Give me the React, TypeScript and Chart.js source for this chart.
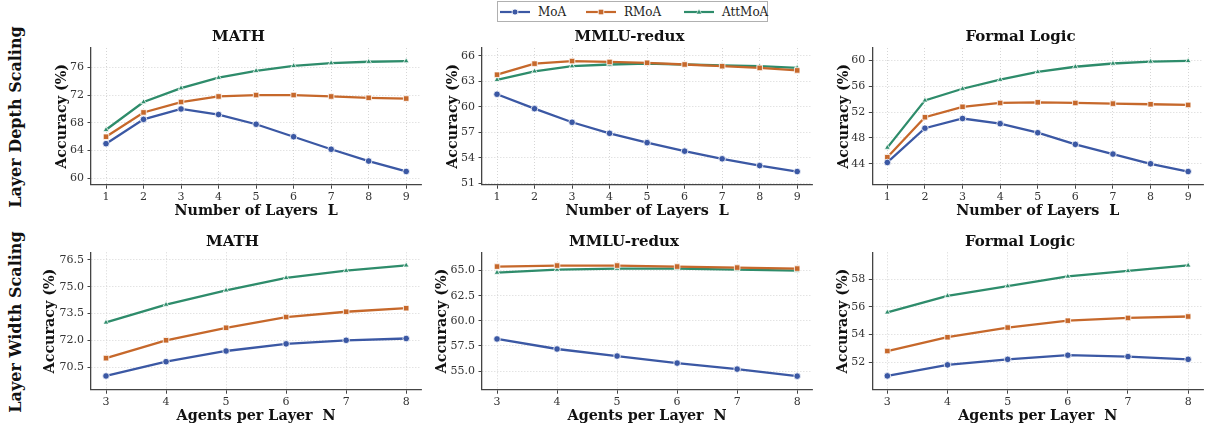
import React, { useEffect, useRef } from 'react';
import { Chart, registerables } from 'chart.js';
Chart.register(...registerables);

const FONT = "'DejaVu Serif', serif";

const seriesNames = ['MoA', 'RMoA', 'AttMoA'];
const seriesColors = ['#3b58a4', '#c6682b', '#2e8c6b'];
const seriesPointStyles = ['circle', 'rect', 'triangle'];
const seriesPointRadius = [3.3, 3.9, 3.3];

// Layer depth (L = 1..9)
const layerCounts = [1, 2, 3, 4, 5, 6, 7, 8, 9];
const mathDepthMoA = [65.0, 68.5, 70.0, 69.2, 67.8, 66.0, 64.2, 62.5, 61.0];
const mathDepthRMoA = [66.0, 69.5, 71.0, 71.8, 72.0, 72.0, 71.8, 71.6, 71.5];
const mathDepthAttMoA = [67.0, 71.0, 73.0, 74.5, 75.5, 76.2, 76.6, 76.8, 76.9];
const mmluDepthMoA = [61.5, 59.8, 58.2, 56.9, 55.8, 54.8, 53.9, 53.1, 52.4];
const mmluDepthRMoA = [63.8, 65.1, 65.4, 65.3, 65.2, 65.0, 64.8, 64.6, 64.3];
const mmluDepthAttMoA = [63.2, 64.2, 64.8, 65.0, 65.1, 65.0, 64.9, 64.8, 64.6];
const flDepthMoA = [44.2, 49.5, 51.0, 50.2, 48.8, 47.0, 45.5, 44.0, 42.8];
const flDepthRMoA = [45.0, 51.2, 52.8, 53.4, 53.5, 53.4, 53.3, 53.2, 53.1];
const flDepthAttMoA = [46.5, 53.8, 55.6, 57.0, 58.2, 59.0, 59.5, 59.8, 59.9];

// Layer width (N = 3..8)
const agentCounts = [3, 4, 5, 6, 7, 8];
const mathWidthMoA = [70.0, 70.8, 71.4, 71.8, 72.0, 72.1];
const mathWidthRMoA = [71.0, 72.0, 72.7, 73.3, 73.6, 73.8];
const mathWidthAttMoA = [73.0, 74.0, 74.8, 75.5, 75.9, 76.2];
const mmluWidthMoA = [58.2, 57.2, 56.5, 55.8, 55.2, 54.5];
const mmluWidthRMoA = [65.4, 65.5, 65.5, 65.4, 65.3, 65.2];
const mmluWidthAttMoA = [64.8, 65.1, 65.2, 65.2, 65.1, 65.0];
const flWidthMoA = [51.0, 51.8, 52.2, 52.5, 52.4, 52.2];
const flWidthRMoA = [52.8, 53.8, 54.5, 55.0, 55.2, 55.3];
const flWidthAttMoA = [55.6, 56.8, 57.5, 58.2, 58.6, 59.0];

// Tick labels
const mathDepthTicks = [60, 64, 68, 72, 76];
const mmluDepthTicks = [51, 54, 57, 60, 63, 66];
const flDepthTicks = [44, 48, 52, 56, 60];
const mathWidthTicks = [70.5, 72.0, 73.5, 75.0, 76.5];
const mmluWidthTicks = [55.0, 57.5, 60.0, 62.5, 65.0];
const flWidthTicks = [52, 54, 56, 58];

const panelTitles = ['MATH', 'MMLU-redux', 'Formal Logic'];
const depthXLabel = 'Number of Layers  L';
const widthXLabel = 'Agents per Layer  N';
const yLabel = 'Accuracy (%)';
const rowLabels = ['Layer Depth Scaling', 'Layer Width Scaling'];

type PanelSpec = {
  title: string;
  xs: number[];
  series: number[][];
  yTicks: number[];
  decimals: number;
  xMin: number;
  xMax: number;
  yMin: number;
  yMax: number;
  xLabel: string;
  plotLeft: number;
  plotRight: number;
  plotTop: number;
  plotBottom: number;
  yLabelX: number;
  titleY: number;
};

const ROW1 = { plotTop: 48, plotBottom: 185, titleY: 37 };
const ROW2 = { plotTop: 252.3, plotBottom: 390, titleY: 241.7 };
const COLS = [
  { plotLeft: 91, plotRight: 423 },
  { plotLeft: 482, plotRight: 814 },
  { plotLeft: 872.3, plotRight: 1205 },
];

const panels: PanelSpec[] = [
  { title: panelTitles[0], xs: layerCounts, series: [mathDepthMoA, mathDepthRMoA, mathDepthAttMoA], yTicks: mathDepthTicks, decimals: 0, xMin: 0.6, xMax: 9.4, yMin: 59.09, yMax: 78.78, xLabel: depthXLabel, ...COLS[0], ...ROW1, yLabelX: 62.7 },
  { title: panelTitles[1], xs: layerCounts, series: [mmluDepthMoA, mmluDepthRMoA, mmluDepthAttMoA], yTicks: mmluDepthTicks, decimals: 0, xMin: 0.6, xMax: 9.4, yMin: 50.85, yMax: 66.94, xLabel: depthXLabel, ...COLS[1], ...ROW1, yLabelX: 453.3 },
  { title: panelTitles[2], xs: layerCounts, series: [flDepthMoA, flDepthRMoA, flDepthAttMoA], yTicks: flDepthTicks, decimals: 0, xMin: 0.6, xMax: 9.4, yMin: 40.76, yMax: 61.9, xLabel: depthXLabel, ...COLS[2], ...ROW1, yLabelX: 844.5 },
  { title: panelTitles[0], xs: agentCounts, series: [mathWidthMoA, mathWidthRMoA, mathWidthAttMoA], yTicks: mathWidthTicks, decimals: 1, xMin: 2.75, xMax: 8.25, yMin: 69.23, yMax: 76.93, xLabel: widthXLabel, ...COLS[0], ...ROW2, yLabelX: 51 },
  { title: panelTitles[1], xs: agentCounts, series: [mmluWidthMoA, mmluWidthRMoA, mmluWidthAttMoA], yTicks: mmluWidthTicks, decimals: 1, xMin: 2.75, xMax: 8.25, yMin: 53.15, yMax: 66.82, xLabel: widthXLabel, ...COLS[1], ...ROW2, yLabelX: 442.5 },
  { title: panelTitles[2], xs: agentCounts, series: [flWidthMoA, flWidthRMoA, flWidthAttMoA], yTicks: flWidthTicks, decimals: 0, xMin: 2.75, xMax: 8.25, yMin: 50.0, yMax: 59.95, xLabel: widthXLabel, ...COLS[2], ...ROW2, yLabelX: 844 },
];

const AXIS_TITLE_SIZE = 14.3;
const AXIS_TITLE_LH = AXIS_TITLE_SIZE * 1.2;
const TITLE_SIZE = 15;
const TITLE_LH = TITLE_SIZE * 1.2;
const TICK_SIZE = 11;
const X_AXIS_H = 26.7 + AXIS_TITLE_LH / 2;

function Panel({ spec }: { spec: PanelSpec }) {
  const ref = useRef<HTMLCanvasElement | null>(null);
  const left = Math.round(spec.yLabelX - AXIS_TITLE_LH / 2);
  const top = Math.round(spec.titleY - TITLE_LH / 2);
  const width = Math.round(spec.plotRight + 3 - left);
  const height = Math.round(spec.plotBottom + X_AXIS_H - top);
  const yAxisW = spec.plotLeft - left;
  const titleBottomPad = spec.plotTop - top - TITLE_LH;

  useEffect(() => {
    if (!ref.current) return;
    const chart = new Chart(ref.current, {
      type: 'line',
      data: {
        datasets: spec.series.map((vals, i) => ({
          label: seriesNames[i],
          data: spec.xs.map((x, j) => ({ x, y: vals[j] })),
          borderColor: seriesColors[i],
          backgroundColor: seriesColors[i],
          borderWidth: 2.3,
          pointStyle: seriesPointStyles[i] as any,
          pointRadius: seriesPointRadius[i],
          pointBackgroundColor: seriesColors[i],
          pointBorderColor: '#ffffff',
          pointBorderWidth: 0.8,
          tension: 0,
          fill: false,
        })),
      },
      options: {
        animation: false,
        responsive: false,
        maintainAspectRatio: false,
        layout: { padding: { left: 0, right: 3, top: 0, bottom: 0 } },
        plugins: {
          legend: { display: false },
          tooltip: { enabled: false },
          title: {
            display: true,
            text: spec.title,
            color: '#111111',
            font: { family: FONT, size: TITLE_SIZE, weight: 'bold', lineHeight: 1.2 },
            padding: { top: 0, bottom: titleBottomPad },
          },
        },
        scales: {
          x: {
            type: 'linear',
            min: spec.xMin,
            max: spec.xMax,
            afterBuildTicks: (axis: any) => {
              axis.ticks = spec.xs.map((v) => ({ value: v }));
            },
            afterFit: (axis: any) => {
              axis.height = X_AXIS_H;
            },
            ticks: {
              color: '#333333',
              font: { family: FONT, size: TICK_SIZE, lineHeight: 1.2 },
              padding: 1.5,
              callback: (v: any) => String(v),
              maxRotation: 0,
              autoSkip: false,
            },
            grid: {
              color: 'rgba(190,190,190,0.8)',
              lineWidth: 0.8,
              tickLength: 4,
              tickColor: '#444444',
              tickWidth: 1,
              tickBorderDash: [],
            },
            border: { display: true, color: '#444444', width: 1.3, dash: [1, 2] },
            title: {
              display: true,
              text: spec.xLabel,
              color: '#111111',
              font: { family: FONT, size: AXIS_TITLE_SIZE, weight: 'bold', lineHeight: 1.2 },
              padding: { top: 0, bottom: 0 },
            },
          },
          y: {
            type: 'linear',
            min: spec.yMin,
            max: spec.yMax,
            afterBuildTicks: (axis: any) => {
              axis.ticks = spec.yTicks.map((v) => ({ value: v }));
            },
            afterFit: (axis: any) => {
              axis.width = yAxisW;
            },
            ticks: {
              color: '#333333',
              font: { family: FONT, size: TICK_SIZE, lineHeight: 1.2 },
              padding: 3.5,
              callback: (v: any) => Number(v).toFixed(spec.decimals),
              autoSkip: false,
            },
            grid: {
              color: 'rgba(190,190,190,0.8)',
              lineWidth: 0.8,
              tickLength: 3.5,
              tickColor: '#444444',
              tickWidth: 1,
              tickBorderDash: [],
            },
            border: { display: true, color: '#444444', width: 1.3, dash: [1, 2] },
            title: {
              display: true,
              text: yLabel,
              color: '#111111',
              font: { family: FONT, size: AXIS_TITLE_SIZE, weight: 'bold', lineHeight: 1.2 },
              padding: { top: 0, bottom: 0 },
            },
          },
        },
      } as any,
    });
    return () => chart.destroy();
  }, []);

  return (
    <canvas
      ref={ref}
      width={width}
      height={height}
      style={{ position: 'absolute', left, top, width, height }}
    />
  );
}

function LegendHandle({ i }: { i: number }) {
  const c = seriesColors[i];
  let marker: React.ReactNode;
  if (seriesPointStyles[i] === 'circle') marker = <circle cx={15} cy={7} r={3} fill={c} stroke="#fff" strokeWidth={0.8} />;
  else if (seriesPointStyles[i] === 'rect') marker = <rect x={12.2} y={4.2} width={5.6} height={5.6} fill={c} stroke="#fff" strokeWidth={0.8} />;
  else marker = <polygon points="15,4 17.8,9 12.2,9" fill={c} stroke="#fff" strokeWidth={0.6} />;
  return (
    <svg width={30} height={14} style={{ position: 'absolute', left: 0, top: 0 }}>
      <line x1={0} y1={7} x2={30} y2={7} stroke={c} strokeWidth={2.2} />
      {marker}
    </svg>
  );
}

const legendItemLefts = [2, 88, 186];

export default function App() {
  return (
    <div style={{ position: 'fixed', left: 0, top: 0, width: 1212, height: 432, background: '#ffffff', overflow: 'hidden' }}>
      {panels.map((p, i) => (
        <Panel key={i} spec={p} />
      ))}
      {rowLabels.map((t, i) => (
        <div
          key={t}
          style={{
            position: 'absolute',
            left: 16 - 100,
            top: (i === 0 ? 116.7 : 321.7) - 10,
            width: 200,
            height: 20,
            lineHeight: '20px',
            textAlign: 'center',
            fontFamily: FONT,
            fontWeight: 'bold',
            fontSize: 16,
            color: '#111',
            transform: 'rotate(-90deg)',
            whiteSpace: 'pre',
          }}
        >
          {t}
        </div>
      ))}
      <div
        style={{
          position: 'absolute',
          left: 497,
          top: 1,
          width: 269,
          height: 19,
          border: '1px solid #b0b0b0',
          fontFamily: FONT,
          fontSize: 12,
          color: '#222',
        }}
      >
        {seriesNames.map((n, i) => (
          <div key={n} style={{ position: 'absolute', left: legendItemLefts[i], top: 2.5, height: 14, width: 90 }}>
            <LegendHandle i={i} />
            <span style={{ position: 'absolute', left: 38, top: -1, lineHeight: '16px', whiteSpace: 'pre' }}>{n}</span>
          </div>
        ))}
      </div>
    </div>
  );
}
